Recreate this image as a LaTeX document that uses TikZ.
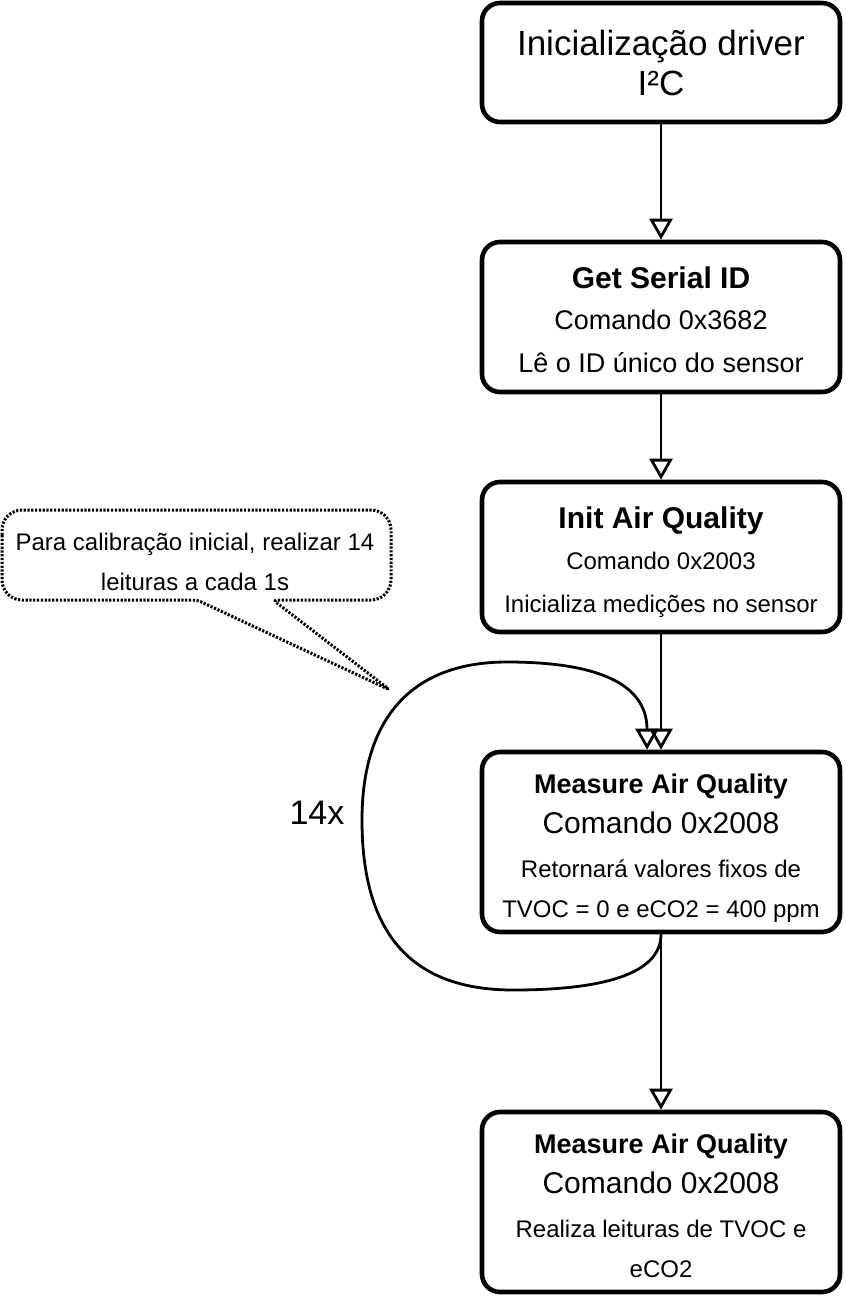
\documentclass[tikz,border=0pt]{standalone}
\usepackage{fontspec}
\setmainfont{Liberation Sans}
\usetikzlibrary{arrows.meta}

\begin{document}
\begin{tikzpicture}[x=1pt, y=-1pt, line join=round,
  stepbox/.style={draw, line width=4.6pt, rounded corners=18pt, minimum width=358pt, inner sep=0pt},
  flow/.style={line width=2.8pt, -{Triangle[open, length=21pt, width=23pt]}},
  linetext/.style={anchor=base, inner sep=0pt},
  notebox/.style={line width=3pt, dash pattern=on 2.2pt off 1.6pt}]

\useasboundingbox (0,0) rectangle (846,1296);

% --- layout helpers ---
\def\X{661}     % column x
\def\fs#1{\fontsize{#1}{#1}\selectfont}

% --- boxes ---
\node[stepbox, minimum height=119pt] (driver)   at (\X,62.5) {};
\node[stepbox, minimum height=150pt] (serialid) at (\X,317)  {};
\node[stepbox, minimum height=150pt] (initaq)   at (\X,557)  {};
\node[stepbox, minimum height=180pt] (measure)  at (\X,842)  {};
\node[stepbox, minimum height=180pt] (reading)  at (\X,1202) {};

% --- a small macro for each text line: name, baseline y, font, text ---
\newcommand{\boxline}[4]{%
  \node[linetext, font=#3] (#1) at (\X,#2) {#4};
}

% driver
\boxline{driverA}{55}{\fs{35}}{Inicialização driver}
\boxline{driverB}{95}{\fs{35}}{I²C}

% serial id
\boxline{serialA}{288}{\bfseries\fs{30}}{Get Serial ID}
\boxline{serialB}{329}{\fs{27}}{Comando 0x3682}
\boxline{serialC}{372}{\fs{27}}{Lê o ID único do sensor}

% init air quality
\boxline{initA}{528}{\bfseries\fs{30}}{Init Air Quality}
\boxline{initB}{569}{\fs{24}}{Comando 0x2003}
\boxline{initC}{612}{\fs{24}}{Inicializa medições no sensor}

% measure (calibration)
\boxline{measA}{793}{\bfseries\fs{27}}{Measure Air Quality}
\boxline{measB}{833}{\fs{30}}{Comando 0x2008}
\boxline{measC}{877}{\fs{24}}{Retornará valores fixos de}
\boxline{measD}{917}{\fs{24}}{TVOC = 0 e eCO2 = 400 ppm}

% measure (readings)
\boxline{readA}{1153}{\bfseries\fs{27}}{Measure Air Quality}
\boxline{readB}{1193}{\fs{30}}{Comando 0x2008}
\boxline{readC}{1237}{\fs{24}}{Realiza leituras de TVOC e}
\boxline{readD}{1277}{\fs{24}}{eCO2}

% --- arrows ---
\draw[flow] (driver.south) -- (serialid.north);
\draw[flow] (serialid.south) -- (initaq.north);
\draw[flow] (initaq.south) -- (measure.north);
\draw[flow] (measure.south) -- (reading.north);

% loop back into the measure box
\draw[flow] (measure.south) .. controls (661,975) and (600,990) .. (513,990)
  .. controls (400,990) and (362,920) .. (362,820)
  .. controls (362,720) and (410,662) .. (507,662)
  .. controls (610,662) and (647,690) .. ([xshift=-14pt]measure.north);
\node[linetext, font=\fs{34}] (times) at (317,824) {14x};

% --- callout ---
\draw[notebox] (2,555) [rounded corners=20pt] -- (2,510) -- (391,510) -- (391,600)
  [rounded corners=4pt] -- (273,600) -- (390,690) -- (197,600)
  [rounded corners=20pt] -- (2,600) -- cycle;
\node[linetext, font=\fs{24}] (noteA) at (195,550) {Para calibração inicial, realizar 14};
\node[linetext, font=\fs{24}] (noteB) at (195,590) {leituras a cada 1s};

\end{tikzpicture}
\end{document}
